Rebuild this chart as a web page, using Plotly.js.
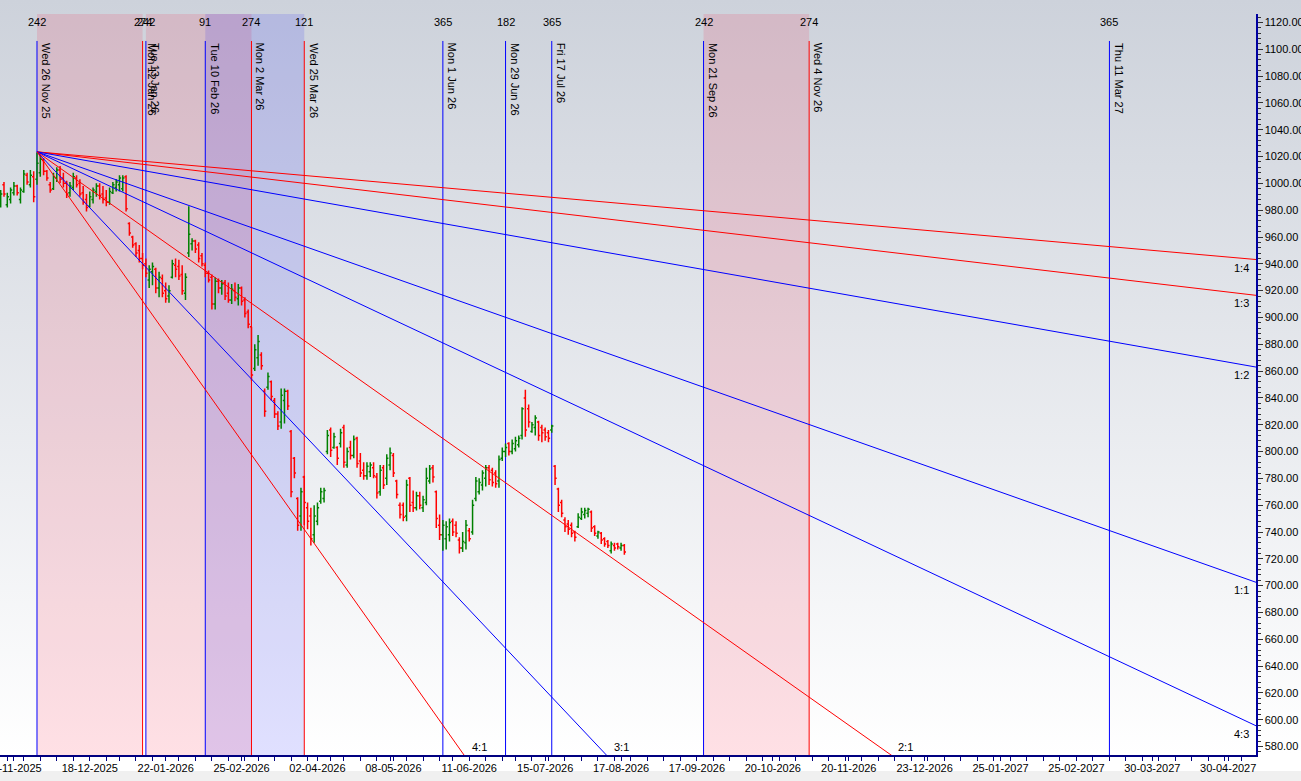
<!DOCTYPE html>
<html>
<head>
<meta charset="utf-8">
<script src="https://cdn.plot.ly/plotly-3.0.1.min.js"></script>
<style>
  html, body { margin: 0; padding: 0; }
  #wrap {
    position: relative; width: 1301px; height: 781px; overflow: hidden;
    background: linear-gradient(to bottom, #cdd2db 0px, #ffffff 755px, #ffffff 771px, #f0f0f0 771px, #f0f0f0 781px);
  }
  #chart { position: absolute; left: 0; top: 0; width: 1301px; height: 781px; }
</style>
</head>
<body>
<div id="wrap"><div id="chart"></div></div>
<script>
// ---------- DATA ----------
const firstBarDate = '2025-11-11';
const holidays = ['2025-12-25','2026-01-15','2026-01-26','2026-03-03','2026-03-26','2026-03-31',
                  '2026-04-03','2026-04-14','2026-05-01','2026-05-28','2026-06-26'];

const openP = [985,999,984,988,993,998,988,994,1006,999,1005,
 1003,1008,1017,1009,999,996,1004,1010,1004,1000,993,997,1004,1000,993,988,983,988,994,998,992,989,986,993,997,999,996,1005,970,960,955,950,944,
 940,928,934,936,922,929,920,916,930,939,938,932,918,948,955,957,954,946,939,933,930,910,927,922,926,918,913,920,914,922,913,904,893,
 862,870,872,845,848,852,838,828,822,838,845,815,795,765,752,781,758,752,738,748,763,765,
 800,816,803,803,806,818,790,803,797,810,793,786,782,785,788,781,770,788,780,790,797,778,760,760,752,780,762,758,767,758,762,778,788,770,745,
 738,735,738,748,745,734,728,732,741,740,765,770,775,780,788,786,784,778,795,800,806,800,802,805,812,840,832,815,818,822,818,816,814,816,
 789,772,762,749,746,745,740,744,750,753,754,755,744,737,739,735,733,726,730,731,728,730];
const highP = [995,1001,993,997,1001,999,997,1010,1008,1010,1009,
 1023,1021,1019,1010,1001,1008,1012,1013,1008,1002,1001,1008,1006,1003,998,992,994,997,1000,1000,998,995,997,1001,1003,1006,1006,1006,971,961,956,954,948,
 944,939,941,937,934,932,926,924,943,944,943,939,933,983,959,958,956,948,941,935,932,930,929,928,928,926,925,926,925,923,915,906,893,
 880,887,874,847,859,853,840,830,847,847,846,816,796,766,773,782,762,758,760,762,773,773,
 816,818,814,804,817,820,803,808,812,811,799,792,792,792,792,784,790,790,798,803,799,779,762,762,779,781,771,770,770,767,788,790,790,771,753,
 749,748,750,750,748,736,740,749,743,764,781,780,786,790,790,788,786,797,803,806,807,809,811,812,833,846,835,822,827,823,820,818,816,820,
 790,773,764,751,749,747,741,754,758,758,758,756,745,741,740,736,734,733,732,732,732,731];
const lowP = [982,990,982,985,991,991,985,993,999,997,986,
 999,1005,1006,1002,993,995,1001,1000,997,989,990,995,997,990,984,979,982,985,990,988,985,983,984,992,994,994,994,979,961,952,945,941,936,
 930,922,924,918,915,915,911,911,929,930,928,917,913,945,950,948,941,938,930,926,906,906,918,917,913,911,910,912,909,909,900,892,853,
 860,864,861,826,846,838,825,816,817,821,831,766,780,741,741,745,742,730,732,745,761,762,
 798,796,802,790,803,788,788,794,795,788,781,779,779,781,780,765,767,772,775,786,781,765,750,748,748,755,755,756,757,755,760,776,777,743,734,
 726,727,733,737,736,724,725,727,733,738,763,768,771,774,775,774,773,773,793,796,797,798,800,803,809,811,818,814,812,808,807,808,807,814,
 775,755,751,740,738,736,733,743,749,750,751,740,737,735,731,729,728,724,726,727,726,723];
const closeP = [992,992,990,995,998,993,995,1007,1001,1006,990,
 1015,1018,1009,1004,995,1005,1010,1003,1000,992,998,1005,999,992,986,982,990,995,998,991,988,986,994,999,1001,1004,1004,981,963,954,948,944,939,
 933,936,938,922,930,918,914,920,940,936,931,920,930,962,957,951,944,940,933,928,910,927,922,925,916,913,921,915,922,912,903,895,857,
 876,882,864,830,856,841,828,819,842,845,834,770,784,745,770,762,748,735,752,758,770,771,
 812,801,811,795,814,792,800,797,809,791,784,782,789,790,782,769,786,775,795,799,784,768,753,751,775,760,758,767,760,764,780,787,781,750,738,
 745,744,747,740,739,728,733,745,735,760,778,777,784,788,779,777,776,794,800,803,800,806,808,810,832,816,822,820,825,812,814,811,810,819,
 780,760,754,744,742,739,736,751,755,756,757,743,739,740,734,731,730,731,728,729,730,725];

// Time-cycle vertical lines
const vlineDates  = ['2025-11-26','2026-01-12','2026-01-13','2026-02-10','2026-03-02','2026-03-25',
                     '2026-06-01','2026-06-29','2026-07-17','2026-09-21','2026-11-04','2027-03-11'];
const vlineLabels = ['Wed 26 Nov 25','Mon 12 Jan 26','Tue 13 Jan 26','Tue 10 Feb 26','Mon 2 Mar 26','Wed 25 Mar 26',
                     'Mon 1 Jun 26','Mon 29 Jun 26','Fri 17 Jul 26','Mon 21 Sep 26','Wed 4 Nov 26','Thu 11 Mar 27'];
const vlineCycles = ['242','274','242','91','274','121','365','182','365','242','274','365'];
const vlineColors = ['#0000ff','#ff0000','#0000ff','#0000ff','#ff0000','#ff0000',
                     '#0000ff','#0000ff','#0000ff','#0000ff','#ff0000','#0000ff'];

// Shaded time zones
const bandStart = ['2025-11-26','2026-01-13','2026-02-10','2026-09-21'];
const bandEnd   = ['2026-01-12','2026-03-02','2026-03-25','2026-11-04'];
const bandColor = ['rgba(255,0,40,0.12)','rgba(255,0,40,0.12)','rgba(0,0,255,0.12)','rgba(255,0,40,0.12)'];

// Gann fan from the 26 Nov 25 high
const fanOriginDate = '2025-11-26';
const fanOriginPrice = 1023.5;
const fanNames    = ['1:4','1:3','1:2','1:1','4:3','2:1','3:1','4:1'];
const fanEndPrice = [943.2, 916.5, 863.0, 702.5, 595.5, 381.5, 60.5, -260.5];
const fanColors   = ['#ff0000','#ff0000','#0000ff','#0000ff','#0000ff','#ff0000','#0000ff','#ff0000'];
const fanLabelAtBottom = [false,false,false,false,false,true,true,true];
const fanBottomLabelDate = {'2:1':'2026-12-10','3:1':'2026-08-12','4:1':'2026-06-11'};

// Axis
const xRange = ['2025-11-10 19:00', '2027-05-12 10:00'];
const yRange = [573.7, 1126.3];
const xTickDates = ['2025-11-17','2025-12-18','2026-01-22','2026-02-25','2026-04-02','2026-05-08','2026-06-11',
  '2026-07-15','2026-08-17','2026-09-17','2026-10-20','2026-11-20','2026-12-23','2027-01-25','2027-02-25',
  '2027-03-30','2027-04-30'];

// ---------- BUILD ----------
function tradingDates(start, count) {
  const out = [];
  const hol = new Set(holidays);
  let d = new Date(start + 'T00:00:00Z');
  while (out.length < count) {
    const wd = d.getUTCDay();
    const s = d.toISOString().slice(0, 10);
    if (wd !== 0 && wd !== 6 && !hol.has(s)) out.push(s);
    d = new Date(d.getTime() + 86400000);
  }
  return out;
}
const barDates = tradingDates(firstBarDate, openP.length);

const FONT = 'Liberation Sans, Arial, sans-serif';
const traces = [];

fanNames.forEach((nm, i) => {
  traces.push({
    type: 'scatter', mode: 'lines', hoverinfo: 'skip', showlegend: false,
    x: [fanOriginDate, xRange[1]], y: [fanOriginPrice, fanEndPrice[i]],
    line: {color: fanColors[i], width: 1}
  });
});

traces.push({
  type: 'ohlc', x: barDates, open: openP, high: highP, low: lowP, close: closeP,
  increasing: {line: {color: '#008000', width: 1.5}},
  decreasing: {line: {color: '#ff0000', width: 1.5}},
  tickwidth: 0.5, hoverinfo: 'skip', showlegend: false
});

const shapes = [];
bandStart.forEach((s, i) => {
  shapes.push({type: 'rect', layer: 'below', xref: 'x', yref: 'paper',
    x0: s, x1: bandEnd[i], y0: 0, y1: 1, fillcolor: bandColor[i], line: {width: 0}});
});
vlineDates.forEach((d, i) => {
  shapes.push({type: 'line', layer: 'below', xref: 'x', yref: 'paper',
    x0: d, x1: d, y0: 0, y1: 0.9636, line: {color: vlineColors[i], width: 1}});
});

const annotations = [];
vlineDates.forEach((d, i) => {
  annotations.push({xref: 'x', yref: 'paper', x: d, y: 1, yanchor: 'top', xanchor: 'center',
    text: vlineCycles[i], showarrow: false, font: {family: FONT, size: 11, color: '#000'}});
  annotations.push({xref: 'x', yref: 'paper', x: d, y: 0.9636, yanchor: 'top', xanchor: 'left',
    xshift: 1, text: vlineLabels[i], textangle: 90, showarrow: false,
    font: {family: FONT, size: 11, color: '#000'}});
});
fanNames.forEach((nm, i) => {
  if (fanLabelAtBottom[i]) {
    annotations.push({xref: 'x', yref: 'paper', x: fanBottomLabelDate[nm], y: 0, xanchor: 'left', yanchor: 'bottom',
      xshift: 1, text: nm, showarrow: false, font: {family: FONT, size: 11, color: '#000'}});
  } else {
    annotations.push({xref: 'paper', yref: 'y', x: 1, y: fanEndPrice[i], xanchor: 'right', yanchor: 'middle',
      xshift: -5, yshift: -8, text: nm, showarrow: false, font: {family: FONT, size: 11, color: '#000'}});
  }
});

const layout = {
  width: 1301, height: 781,
  margin: {l: 0, r: 45, t: 14, b: 26, pad: 0},
  paper_bgcolor: 'rgba(0,0,0,0)', plot_bgcolor: 'rgba(0,0,0,0)',
  showlegend: false,
  font: {family: FONT, size: 11, color: '#000'},
  xaxis: {
    type: 'date', range: xRange, automargin: false,
    rangeslider: {visible: false},
    rangebreaks: [{pattern: 'day of week', bounds: [6, 1]}, {values: holidays}],
    tickmode: 'array', tickvals: xTickDates, tickformat: '%d-%m-%Y',
    ticklabeloverflow: 'allow', ticklabelstandoff: -2,
    ticks: 'outside', ticklen: 4, tickcolor: '#000080', tickwidth: 1,
    minor: {ticks: 'outside', dtick: 7 * 86400000, tick0: '2025-11-20', ticklen: 4, tickcolor: '#000080', showgrid: false},
    showline: true, linecolor: '#000080', linewidth: 1.5,
    showgrid: false, zeroline: false,
    tickfont: {family: FONT, size: 11, color: '#000'}
  },
  yaxis: {
    side: 'right', range: yRange, automargin: false,
    tickmode: 'linear', tick0: 580, dtick: 20, tickformat: '.2f',
    ticklabeloverflow: 'allow',
    ticks: 'outside', ticklen: 5, tickcolor: '#333', tickwidth: 1,
    minor: {dtick: 4, tick0: 580, ticks: 'outside', ticklen: 3, tickcolor: '#333', showgrid: false},
    showline: true, linecolor: '#0000a0', linewidth: 1.5,
    showgrid: false, zeroline: false,
    tickfont: {family: FONT, size: 11, color: '#000'}
  },
  shapes: shapes,
  annotations: annotations
};

Plotly.newPlot('chart', traces, layout, {staticPlot: true, displayModeBar: false});
</script>
</body>
</html>
